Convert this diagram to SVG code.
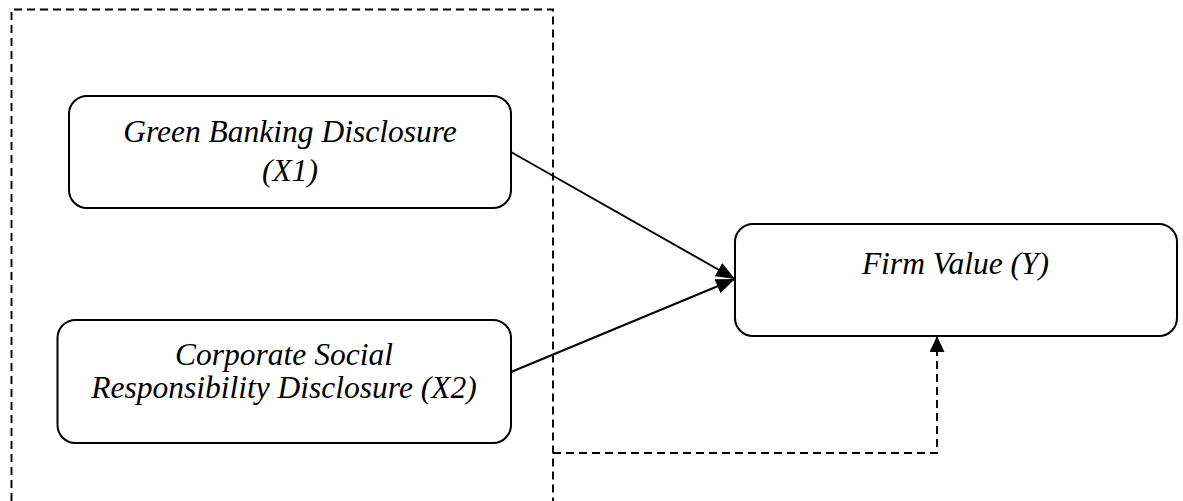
<svg xmlns="http://www.w3.org/2000/svg" width="1183" height="501" viewBox="0 0 1183 501">
<style>
.box{fill:#fff;stroke:#000;stroke-width:2}
.lbl{font-family:"Liberation Serif","Times New Roman",serif;font-style:italic;font-size:31.5px;fill:#000;text-anchor:middle}
.solid{fill:none;stroke:#000;stroke-width:1.9}
.dash{fill:none;stroke:#000;stroke-width:1.9;stroke-dasharray:8 5}
</style>
<defs>
<marker id="ah" markerUnits="userSpaceOnUse" markerWidth="19" markerHeight="15" refX="19" refY="7.5" orient="auto">
<path d="M0,0 L19,7.5 L0,15 z" fill="#000"/>
</marker>
<marker id="ah2" markerUnits="userSpaceOnUse" markerWidth="16" markerHeight="15" refX="16" refY="7.5" orient="auto">
<path d="M0,0 L16,7.5 L0,15 z" fill="#000"/>
</marker>
</defs>
<g id="frame">
<path class="dash" d="M11.5,501 V9.5 H553 V501"/>
</g>
<g id="connectors">
<line class="solid" x1="511" y1="152" x2="735" y2="279" marker-end="url(#ah)"/>
<line class="solid" x1="511" y1="372" x2="735" y2="279" marker-end="url(#ah)"/>
<path class="dash" d="M553,453 H937 V336" marker-end="url(#ah2)"/>
</g>
<g id="node-x1">
<rect class="box" x="69" y="96" width="442" height="112" rx="18"/>
<text class="lbl" x="290" y="141.5">Green Banking Disclosure</text>
<text class="lbl" x="290" y="180.7">(X1)</text>
</g>
<g id="node-x2">
<rect class="box" x="57.5" y="320" width="453.5" height="123" rx="18"/>
<text class="lbl" x="284" y="365">Corporate Social</text>
<text class="lbl" x="284" y="398">Responsibility Disclosure (X2)</text>
</g>
<g id="node-y">
<rect class="box" x="735" y="224" width="442" height="112" rx="18"/>
<text class="lbl" x="955.5" y="274">Firm Value (Y)</text>
</g>
</svg>
